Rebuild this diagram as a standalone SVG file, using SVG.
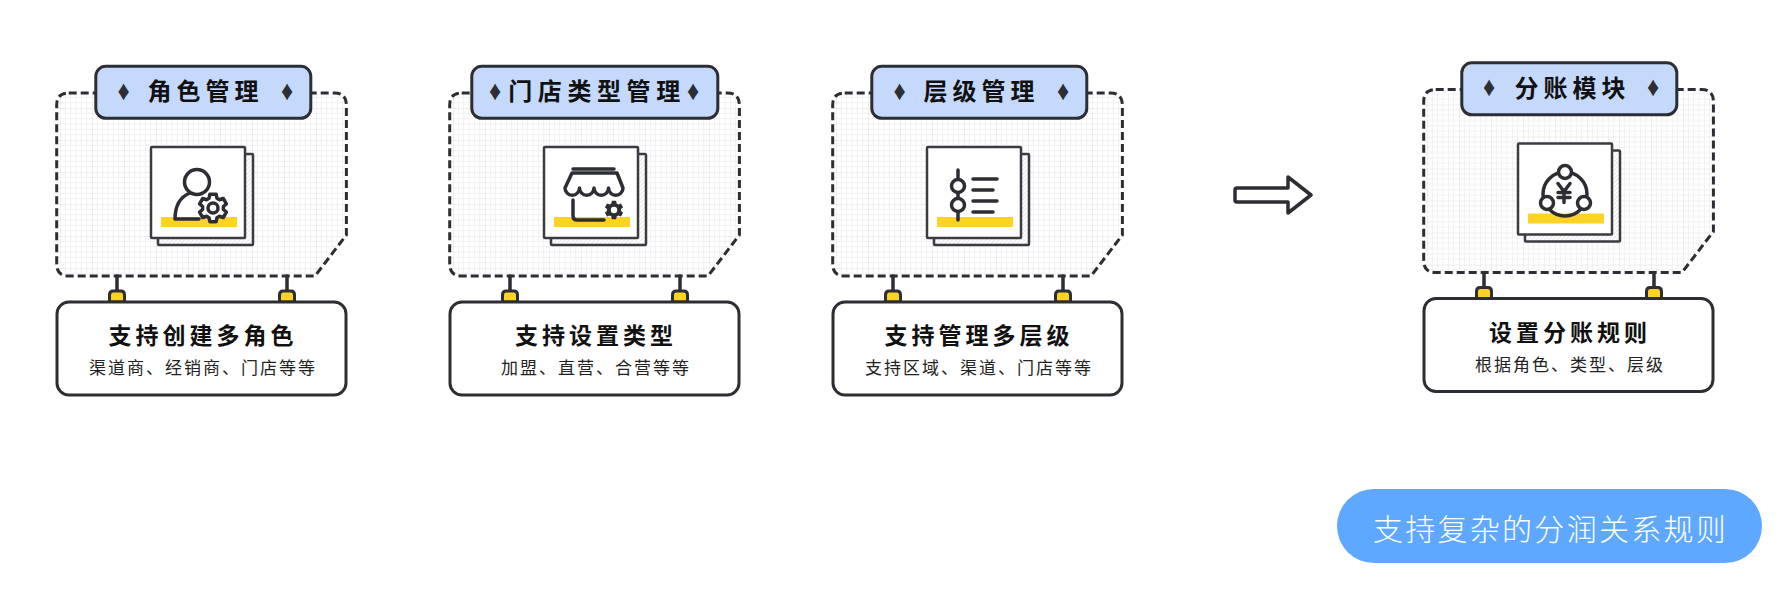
<svg xmlns="http://www.w3.org/2000/svg" width="1792" height="589" viewBox="0 0 1792 589">
<style>
text{font-family:"Noto Sans CJK SC","Noto Sans",sans-serif;text-anchor:middle}
.k{fill:none;stroke:#2d2e33;stroke-width:3.5;stroke-linecap:round;stroke-linejoin:round}
.kw{fill:#fff;stroke:#2d2e33;stroke-width:3.5;stroke-linecap:round;stroke-linejoin:round}
.area{fill:url(#grid);stroke:#2d2e33;stroke-width:3;stroke-dasharray:8 4;stroke-linejoin:round}
.tag{fill:#c5d9fc;stroke:#2d2e33;stroke-width:3}
.box{fill:#fff;stroke:#2d2e33;stroke-width:3}
.back{fill:url(#hatch);stroke:#3b3c41;stroke-width:2.5}
.page{fill:#fff;stroke:#3b3c41;stroke-width:2.5}
.y{fill:#ffd324}
.tab{fill:#ffd324;stroke:#2d2e33;stroke-width:3}
.t{font-size:24px;font-weight:700;letter-spacing:5px;fill:#111}
.h{font-size:23px;font-weight:700;letter-spacing:4px;fill:#111}
.s{font-size:17px;letter-spacing:2px;fill:#222}
.d{font-size:24px;fill:#2d2e33;font-family:"Liberation Sans",sans-serif}
</style>
<defs>
<pattern id="grid" width="32" height="32" patternUnits="userSpaceOnUse" patternTransform="translate(60 108)">
<path d="M5.33 0V32M10.67 0V32M16 0V32M21.33 0V32M26.67 0V32M0 5.33H32M0 10.67H32M0 16H32M0 21.33H32M0 26.67H32" stroke="#f1f1f1" stroke-width="1" fill="none"/>
<path d="M0 0V32M0 0H32" stroke="#e0e0e0" stroke-width="1" fill="none"/>
</pattern>
<pattern id="hatch" width="3" height="3" patternUnits="userSpaceOnUse" patternTransform="rotate(45)"><rect width="3" height="3" fill="#fff"/><path d="M0 0V3" stroke="#cfcfcf" stroke-width="1"/></pattern>
<polygon id="gear" points="-3.93,-9.74 -3.15,-13.64 3.15,-13.64 3.93,-9.74 6.47,-8.27 10.24,-9.55 13.39,-4.09 10.4,-1.47 10.4,1.47 13.39,4.09 10.24,9.55 6.47,8.27 3.93,9.74 3.15,13.64 -3.15,13.64 -3.93,9.74 -6.47,8.27 -10.24,9.55 -13.39,4.09 -10.4,1.47 -10.4,-1.47 -13.39,-4.09 -10.24,-9.55 -6.47,-8.27"/>
<g id="frame">
<path class="area" d="M68.700 93H334.400Q346.400 93 346.400 105V235L315 276H68.700Q56.700 276 56.700 264V105Q56.700 93 68.700 93Z"/>
</g>
<g id="doc">
<rect class="back" x="158" y="154" width="95" height="91" rx="1"/>
<rect class="page" x="151" y="147" width="94" height="91" rx="1"/>
<rect class="y" x="161" y="217" width="76" height="10"/>
</g>
<g id="foot">
<path class="k" d="M117 276V291M287 276V291"/>
<path class="tab" d="M109.500 302V295Q109.500 291 113 291H121Q124.500 291 124.500 295V302Z"/>
<path class="tab" d="M279.500 302V295Q279.500 291 283 291H291Q294.500 291 294.500 295V302Z"/>
<rect class="box" x="57" y="302" width="289" height="93" rx="12"/>
</g>
</defs>

<g id="connectors">
<path id="arrow" class="kw" d="M1237 188H1288V177L1311 195L1288 213V202H1237Q1235 202 1235 200V190Q1235 188 1237 188Z"/>
</g>

<g id="node-role">
<use href="#frame"/><use href="#foot"/><use href="#doc"/>
<rect class="tag" x="95.800" y="66.300" width="215" height="52" rx="10"/>
<text class="d" transform="translate(123.500 99.600) scale(1 1.150)">♦</text><text class="d" transform="translate(287 99.600) scale(1 1.150)">♦</text>
<text class="t" x="205.500" y="100">角色管理</text>
<circle class="k" cx="197" cy="182" r="12.500"/><path class="k" d="M190 193C180 197 175 206 175 219H199"/>
<use href="#gear" class="kw" transform="translate(213 208)" stroke-width="3"/><circle class="k" cx="213" cy="208" r="5"/>
<text class="h" x="203" y="344">支持创建多角色</text>
<text class="s" x="203" y="374">渠道商、经销商、门店等等</text>
</g>

<g id="node-store" transform="translate(393 0)">
<use href="#frame"/><use href="#foot"/><use href="#doc"/>
<rect class="tag" x="78.800" y="66.300" width="246" height="52" rx="10"/>
<text class="d" transform="translate(102 99.600) scale(1 1.150)">♦</text><text class="d" transform="translate(300 99.600) scale(1 1.150)">♦</text>
<text class="t" x="204" y="100" style="letter-spacing:5.600px">门店类型管理</text>
<path class="k" d="M180 169H221"/><path class="k" d="M179 173H224L230 188a7.250 7.250 0 0 1 -14.500 0a7.250 7.250 0 0 1 -14.500 0a7.250 7.250 0 0 1 -14.500 0a7.250 7.250 0 0 1 -14.500 0Z"/><path class="k" d="M180 200V216Q180 220 184 220H211"/>
<use href="#gear" fill="#2d2e33" transform="translate(221 210) scale(.68)"/><circle cx="221" cy="210" r="3.200" fill="#fff"/>
<text class="h" x="203" y="344">支持设置类型</text>
<text class="s" x="203" y="374">加盟、直营、合营等等</text>
</g>

<g id="node-level" transform="translate(776 0)">
<use href="#frame"/><use href="#foot"/><use href="#doc"/>
<rect class="tag" x="95.800" y="66.300" width="215" height="52" rx="10"/>
<text class="d" transform="translate(123.500 99.600) scale(1 1.150)">♦</text><text class="d" transform="translate(287 99.600) scale(1 1.150)">♦</text>
<text class="t" x="205.500" y="100">层级管理</text>
<path class="k" d="M182 170V220"/><circle class="kw" cx="182" cy="186" r="6.500"/><circle class="kw" cx="182" cy="205" r="6.500"/><path class="k" d="M197 179H221M197 190H217M197 201H221M197 212H217"/>
<text class="h" x="203" y="344">支持管理多层级</text>
<text class="s" x="203" y="374">支持区域、渠道、门店等等</text>
</g>

<g id="node-split" transform="translate(1367 -3.500)">
<use href="#frame"/><use href="#foot"/><use href="#doc"/>
<rect class="tag" x="94.800" y="66.300" width="215" height="52" rx="10"/>
<text class="d" transform="translate(122 99.600) scale(1 1.150)">♦</text><text class="d" transform="translate(286 99.600) scale(1 1.150)">♦</text>
<text class="t" x="205.500" y="100">分账模块</text>
<circle class="k" cx="198" cy="197.500" r="22"/><circle class="kw" cx="198" cy="175.500" r="6.500"/><circle class="kw" cx="180" cy="206.500" r="6.500"/><circle class="kw" cx="217" cy="206.500" r="6.500"/><path class="k" d="M191 187L197 195L203 187M197 195V206M191 196H203M191 201H203"/>
<text class="h" x="203" y="344">设置分账规则</text>
<text class="s" x="203" y="374">根据角色、类型、层级</text>
</g>

<g id="node-note">
<rect x="1337" y="489" width="425" height="74" rx="37" fill="#5fa8ff"/>
<text x="1550.500" y="540" font-size="30" letter-spacing="2.300" font-weight="300" fill="#fff">支持复杂的分润关系规则</text>
</g>
</svg>
